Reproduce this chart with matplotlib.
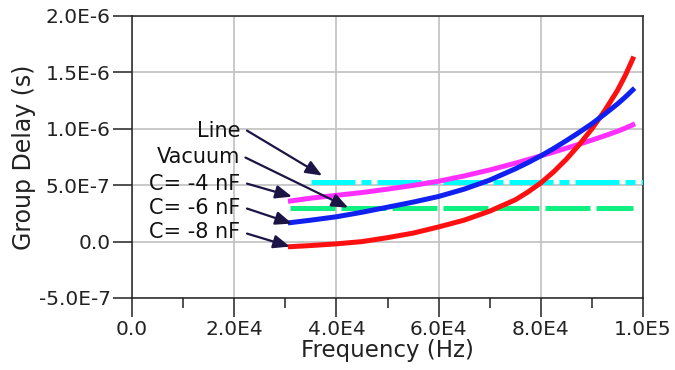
import numpy as np
import matplotlib
matplotlib.use("Agg")
import matplotlib.pyplot as plt
from matplotlib.ticker import MultipleLocator

# Curve data (frequency in Hz, group delay in microseconds)
freq = [31000, 35000, 40000, 45000, 50000, 55000, 60000, 65000,
        70000, 75000, 77500, 80000, 82500, 85000, 87500, 90000,
        92500, 95000, 96500, 98000]
delay_c4 = [0.360, 0.385, 0.410, 0.435, 0.465, 0.498, 0.535, 0.582,
            0.635, 0.695, 0.727, 0.760, 0.793, 0.828, 0.863, 0.900,
            0.938, 0.978, 1.005, 1.035]
delay_c6 = [0.168, 0.190, 0.220, 0.260, 0.305, 0.350, 0.400, 0.465,
            0.545, 0.645, 0.700, 0.760, 0.825, 0.895, 0.968, 1.045,
            1.130, 1.220, 1.280, 1.345]
delay_c8 = [-0.045, -0.035, -0.020, 0.000, 0.035, 0.075, 0.130, 0.190,
            0.270, 0.370, 0.440, 0.520, 0.618, 0.730, 0.858, 1.000,
            1.160, 1.340, 1.470, 1.620]
delay_c4 = np.array(delay_c4) * 1e-6
delay_c6 = np.array(delay_c6) * 1e-6
delay_c8 = np.array(delay_c8) * 1e-6

vacuum_freq = [31000, 98000]
vacuum_delay = [3.0e-7, 3.0e-7]
line_freq = [35000, 100000]
line_delay = [5.3e-7, 5.3e-7]

xticks = [0, 20000, 40000, 60000, 80000, 100000]
xtick_labels = ["0.0", "2.0E4", "4.0E4", "6.0E4", "8.0E4", "1.0E5"]
yticks = [-5e-7, 0, 5e-7, 1e-6, 1.5e-6, 2e-6]
ytick_labels = ["-5.0E-7", "0.0", "5.0E-7", "1.0E-6", "1.5E-6", "2.0E-6"]

# label text, text position, arrow tail and head
labels = ["Line", "Vacuum", "C= -4 nF", "C= -6 nF", "C= -8 nF"]
label_pos = [(21200, 0.984e-6), (21200, 0.752e-6), (21200, 0.514e-6),
             (21200, 0.301e-6), (21200, 0.089e-6)]
tail_pos = [(22500, 0.984e-6), (22200, 0.745e-6), (22500, 0.514e-6),
            (22500, 0.293e-6), (22500, 0.071e-6)]
head_pos = [(37200, 0.585e-6), (42300, 0.301e-6), (31300, 0.399e-6),
            (31300, 0.160e-6), (30900, -0.044e-6)]

fig = plt.figure(figsize=(6.75, 3.7), dpi=100)
ax = fig.add_axes([0.1956, 0.1946, 0.757, 0.7622])

lw = 3.6
ax.plot(vacuum_freq, vacuum_delay, color="#10f080", lw=lw, dashes=(9, 1.2), zorder=3)
ax.plot(line_freq, line_delay, color="#00ffff", lw=lw, dashes=(8.8, 1.2, 2, 1.2), zorder=3)
ax.plot(freq, delay_c4, color="#ff30ff", lw=lw, zorder=4)
ax.plot(freq, delay_c8, color="#ff1010", lw=lw, zorder=4)
ax.plot(freq, delay_c6, color="#1020f0", lw=lw, zorder=5)

for txt, tp, ap, hp in zip(labels, label_pos, tail_pos, head_pos):
    ax.text(tp[0], tp[1], txt, ha="right", va="center", fontsize=15, color="#111111")
    ax.annotate("", xy=hp, xytext=ap,
                arrowprops=dict(arrowstyle="-|>,head_length=1.1,head_width=0.45",
                                color="#1b1445", lw=1.6, shrinkA=0, shrinkB=0,
                                mutation_scale=9), zorder=6)

ax.set_xlim(0, 100000)
ax.set_ylim(-5e-7, 2e-6)
ax.set_xticks(xticks)
ax.set_xticklabels(xtick_labels)
ax.set_yticks(yticks)
ax.set_yticklabels(ytick_labels)
ax.xaxis.set_minor_locator(MultipleLocator(10000))

ax.grid(True, which="major", color="#c0c0c0", lw=1.2, zorder=0)
ax.set_axisbelow(True)
for s in ax.spines.values():
    s.set_linewidth(1.1)
    s.set_color("#222222")

ax.tick_params(which="major", length=13.5, width=1.1, color="#222222",
               labelsize=14.5, labelcolor="#222222", pad=2)
ax.tick_params(which="minor", axis="x", length=7, width=1.1, color="#222222")

ax.set_xlabel("Frequency (Hz)", fontsize=16.5, color="#222222", labelpad=0)
ax.set_ylabel("Group Delay (s)", fontsize=17, color="#222222", labelpad=2)

fig.savefig("out.png", dpi=100)
